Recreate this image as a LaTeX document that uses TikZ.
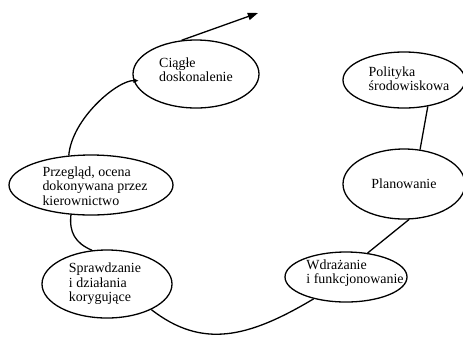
\documentclass[tikz,border=0pt]{standalone}
\usepackage{fontspec}
\setmainfont{Liberation Serif}
\usepackage{tikz}
\usetikzlibrary{arrows.meta,positioning,shapes.geometric}
\tikzset{
  blob/.style = {ellipse, draw=black, line width=1.3bp, inner sep=0pt},
  txt/.style  = {align=left, inner sep=0pt,
                 font=\fontsize{14}{14.5}\selectfont},
  ln/.style   = {draw=black, line width=1.3bp},
  hook/.style = {-{Triangle[length=5bp, width=4bp]}, shorten >=-5bp},
  arr/.style  = {-{Triangle[length=3.6mm, width=2.6mm]}, draw=black, line width=1.3bp},
}

\begin{document}
\begin{tikzpicture}[x=1bp,y=-1bp]
  \useasboundingbox (0,0) rectangle (463,337);

  % --- ellipses of the cycle
  \node[blob, minimum width=126bp, minimum height=68bp] (cia) at (196,74) {};
  \node[blob, minimum width=122bp, minimum height=56bp] (pol) at (404,80) {};
  \node[blob, minimum width=122bp, minimum height=70bp] (pla) at (404,184) {};
  \node[blob, minimum width=164bp, minimum height=60bp] (prz) at (91,185) {};
  \node[blob, minimum width=130bp, minimum height=68bp] (spr) at (107,284) {};
  \node[blob, minimum width=122bp, minimum height=50bp] (wdr) at (346,277) {};

  % --- texts
  \node[txt] (ciat) at ([shift={(0,-4)}]cia.center) {Ciągłe\\doskonalenie};
  \node[txt] (polt) at ([shift={(5,-1)}]pol.center) {Polityka\\środowiskowa};
  \node[txt] (plat) at (pla.center) {Planowanie};
  \node[txt] (przt) at ([shift={(4,1)}]prz.center) {Przegląd, ocena\\dokonywana przez\\kierownictwo};
  \node[txt] (sprt) at ([shift={(-2,0)}]spr.center) {Sprawdzanie\\i działania\\korygujące};
  \node[txt] (wdrt) at ([shift={(9,-4)}]wdr.center) {Wdrażanie\\i funkcjonowanie};

  % --- links
  \draw[ln] (pol.-48) -- (pla.65);
  \draw[ln] (pla.-82) -- (wdr.48);
  \draw[ln] (wdr.214) .. controls (248,338) and (202,349) .. (spr.-30);
  \draw[ln] (spr.114) .. controls (75,243) and (69,232) .. (prz.-124);
  \draw[ln, hook] (prz.127) .. controls (72,118) and (118,80) .. (cia.186);
  \coordinate (up) at (258,13);
  \draw[arr] (cia.113) -- (up);
\end{tikzpicture}
\end{document}
